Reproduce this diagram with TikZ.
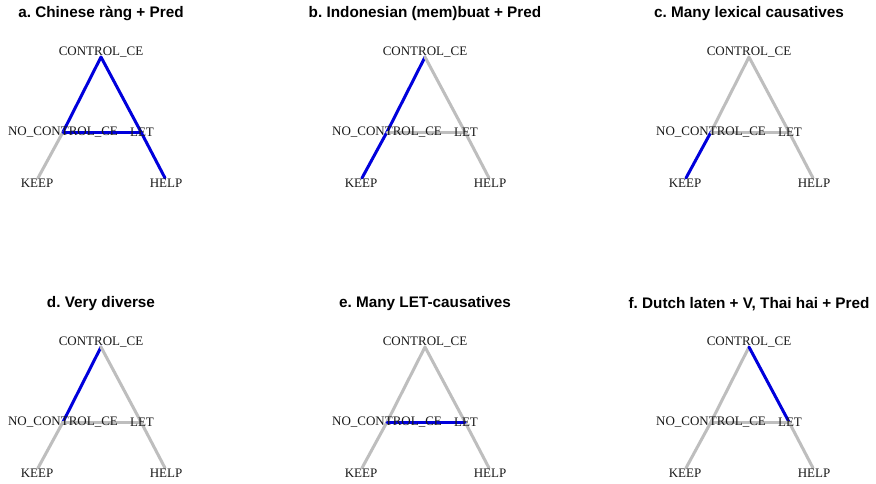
\documentclass[tikz,border=0pt]{standalone}
\usepackage{fontspec}
\setmainfont{Liberation Serif}
\newfontfamily\titlefont{Liberation Sans}
\frenchspacing
\definecolor{eblue}{RGB}{0,0,220}
\definecolor{egray}{RGB}{190,190,190}
\tikzset{
  edge/.style={line width=3pt, line cap=round},
  lab/.style={inner sep=0pt, font=\fontsize{13}{15}\selectfont, text=black!90},
  ttl/.style={inner sep=0pt, font=\titlefont\bfseries\fontsize{15.3}{18}\selectfont}
}
% #1 x offset, #2 y offset, #3 name prefix, #4 title,
% colours of edges #5 CONTROL-NO_CONTROL, #6 NO_CONTROL-KEEP, #7 CONTROL-LET, #8 LET-HELP, #9 NO_CONTROL-LET
\newcommand\causpanel[9]{%
  \begin{scope}[shift={(#1,#2)}]
    \coordinate (#3C) at (101,57);
    \coordinate (#3N) at (63,132);
    \coordinate (#3L) at (141,132);
    \coordinate (#3K) at (38,178);
    \coordinate (#3H) at (165,178);
    \draw[edge,#5] (#3C) -- (#3N);
    \draw[edge,#6] (#3N) -- (#3K);
    \draw[edge,#7] (#3C) -- (#3L);
    \draw[edge,#8] (#3L) -- (#3H);
    \draw[edge,#9] (#3N) -- (#3L);
    \node[lab] (#3Ct) at (101,52) {CONTROL\_CE};
    \node[lab] (#3Nt) at (63,132) {NO\_CONTROL\_CE};
    \node[lab] (#3Lt) at (142,132) {LET};
    \node[lab] (#3Kt) at (37,183) {KEEP};
    \node[lab] (#3Ht) at (166,183) {HELP};
    \node[ttl] (#3T) at (101,14) {#4};
  \end{scope}}
\begin{document}
\begin{tikzpicture}[x=1pt,y=-1pt]
  \useasboundingbox[fill=white] (0,0) rectangle (876,483);
  \causpanel{0}{0}{a}{a. Chinese ràng + Pred}{eblue}{egray}{eblue}{eblue}{eblue}
  \causpanel{324}{0}{b}{b. Indonesian (mem)buat + Pred}{eblue}{eblue}{egray}{egray}{egray}
  \causpanel{648}{0}{c}{c. Many lexical causatives}{egray}{eblue}{egray}{egray}{egray}
  \causpanel{0}{290}{d}{d. Very diverse}{eblue}{egray}{egray}{egray}{egray}
  \causpanel{324}{290}{e}{e. Many LET-causatives}{egray}{egray}{egray}{egray}{eblue}
  \causpanel{648}{290}{f}{f. Dutch laten + V, Thai hai + Pred}{egray}{egray}{eblue}{egray}{egray}
\end{tikzpicture}
\end{document}
